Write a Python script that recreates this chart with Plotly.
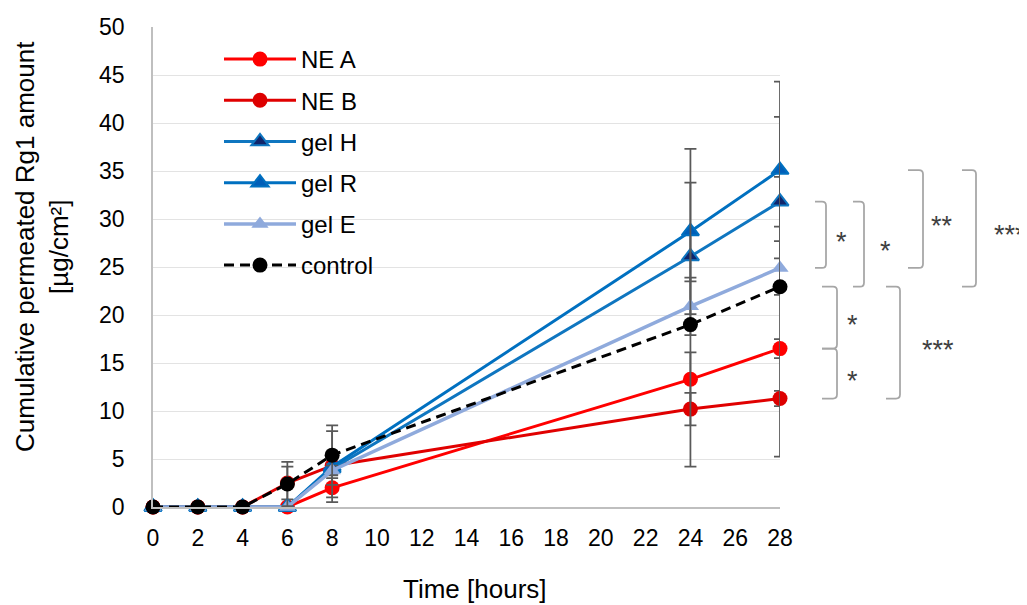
import plotly.graph_objects as go

# ---------------- data ----------------
time_h = [0, 2, 4, 6, 8, 24, 28]

ne_a = [0, 0, 0, 0, 2.0, 13.3, 16.5]
ne_a_err = [0, 0, 0, 0, 1.0, 2.8, 1.0]

ne_b = [0, 0, 0, 2.5, 4.3, 10.2, 11.3]
ne_b_err = [0, 0, 0, 1.7, 0.9, 1.7, 0.8]

gel_h = [0, 0, 0, 0, 4.0, 26.1, 31.8]
gel_h_err = [0, 0, 0, 0, 0.5, 2.6, 2.6]

gel_r = [0, 0, 0, 0, 4.2, 28.7, 35.1]
gel_r_err = [0, 0, 0, 0, 3.7, 8.6, 9.2]

gel_e = [0, 0, 0, 0, 3.8, 20.9, 24.9]
gel_e_err = [0, 0, 0, 0, 0.5, 3.0, 2.8]

control = [0, 0, 0, 2.4, 5.4, 19.0, 22.95]
control_err = [0, 0, 0, 2.3, 3.1, 14.8, 17.7]

series_names = ["NE A", "NE B", "gel H", "gel R", "gel E", "control"]

x_ticks = list(range(0, 29, 2))
y_ticks = list(range(0, 51, 5))

# significance brackets: (upper series, lower series, label)
brackets = [
    ("gel H", "gel E", "*"),
    ("gel H", "control", "*"),
    ("gel R", "gel E", "**"),
    ("gel R", "control", "***"),
    ("control", "NE A", "*"),
    ("NE A", "NE B", "*"),
    ("control", "NE B", "***"),
]

# ---------------- styling ----------------
W, H = 1027, 605
OFF = 8  # page body margin of the browser
L, R, T, B = 153 - OFF, 247 + OFF, 27 - OFF, 98 + OFF
PW, PH = W - L - R, H - T - B
YMAX = 50
FONT = "Liberation Sans, Arial, sans-serif"
ERR_COL = "#595959"

values = {"NE A": ne_a, "NE B": ne_b, "gel H": gel_h, "gel R": gel_r,
          "gel E": gel_e, "control": control}
errors = {"NE A": ne_a_err, "NE B": ne_b_err, "gel H": gel_h_err, "gel R": gel_r_err,
          "gel E": gel_e_err, "control": control_err}

styles = {
    "NE A": dict(line=dict(color="#FF0000", width=3),
                 marker=dict(symbol="circle", size=15, color="#FF0000")),
    "NE B": dict(line=dict(color="#E00000", width=3),
                 marker=dict(symbol="circle", size=15, color="#DD0000")),
    "gel H": dict(line=dict(color="#0F76C0", width=3),
                  marker=dict(symbol="triangle-up", size=15, color="#10256B",
                              line=dict(color="#0F76C0", width=2))),
    "gel R": dict(line=dict(color="#0070C0", width=3),
                  marker=dict(symbol="triangle-up", size=15, color="#005EB8",
                              line=dict(color="#0070C0", width=2))),
    "gel E": dict(line=dict(color="#8FAADC", width=3.5),
                  marker=dict(symbol="triangle-up", size=15, color="#8FAADC")),
    "control": dict(line=dict(color="#000000", width=3, dash="10px,6px"),
                    marker=dict(symbol="circle", size=15, color="#000000")),
}

fig = go.Figure()
for i, name in enumerate(series_names):
    st = styles[name]
    fig.add_trace(go.Scatter(
        x=time_h, y=values[name], name=name, mode="lines+markers",
        line=st["line"], marker=st["marker"],
        error_y=dict(type="data", array=errors[name], visible=True,
                     color=ERR_COL, thickness=1.75, width=6),
        cliponaxis=False, legendgroup=name, legendrank=i,
    ))

# screen-pixel -> paper coordinate helpers
def px_x(px):
    return (px - OFF - L) / PW

def px_y(py):
    return (H - B - (py - OFF)) / PH

last = {n: values[n][-1] for n in series_names}

bracket_px = [  # (x_left, x_right, star_x) in screen pixels
    (815, 826, 841),
    (853, 864, 885),
    (908, 923, 942),
    (962, 976, 1010),
    (822, 837, 852),
    (822, 837, 852),
    (886, 900, 938),
]

shapes = []
annotations = []
rx, ry = 4 / PW, 4 / PH
for (top_s, bot_s, label), (xl_px, xr_px, sx_px) in zip(brackets, bracket_px):
    yt = last[top_s] / YMAX
    yb = last[bot_s] / YMAX
    xl, xr = px_x(xl_px), px_x(xr_px)
    path = (f"M {xl},{yt} L {xr - rx},{yt} Q {xr},{yt} {xr},{yt - ry} "
            f"L {xr},{yb + ry} Q {xr},{yb} {xr - rx},{yb} L {xl},{yb}")
    shapes.append(dict(type="path", path=path, xref="paper", yref="paper",
                       line=dict(color="#A6A6A6", width=1.75), layer="above"))
    annotations.append(dict(x=px_x(sx_px), y=(yt + yb) / 2, xref="paper", yref="paper",
                            xanchor="center", yanchor="middle",
                            text=label, showarrow=False, yshift=-7,
                            font=dict(family=FONT, size=27, color="#404040")))

# axis titles
annotations.append(dict(x=px_x(42), y=px_y(247), xref="paper", yref="paper",
                        xanchor="center", yanchor="middle",
                        text="Cumulative permeated Rg1 amount<br>[µg/cm²]",
                        textangle=-90, showarrow=False,
                        font=dict(family=FONT, size=26, color="#000000")))
annotations.append(dict(x=px_x(475), y=px_y(589), xref="paper", yref="paper",
                        xanchor="center", yanchor="middle",
                        text="Time [hours]", showarrow=False,
                        font=dict(family=FONT, size=26, color="#000000")))

fig.update_layout(
    width=W, height=H,
    margin=dict(l=L, r=R, t=T, b=B, autoexpand=False),
    paper_bgcolor="white", plot_bgcolor="white",
    font=dict(family=FONT, size=22, color="#000000"),
    showlegend=True,
    legend=dict(x=px_x(219), y=px_y(37), xanchor="left", yanchor="top",
                bgcolor="rgba(0,0,0,0)", font=dict(family=FONT, size=24),
                tracegroupgap=7, itemwidth=72),
    shapes=shapes, annotations=annotations,
)
fig.update_xaxes(range=[0, 28], tickvals=x_ticks, ticktext=[str(v) for v in x_ticks],
                 showgrid=False, zeroline=False, showline=True,
                 linecolor="#BFBFBF", linewidth=1.5, ticks="",
                 ticklabelstandoff=10, tickfont=dict(size=23))
fig.update_yaxes(range=[0, YMAX], tickvals=y_ticks, ticktext=[str(v) for v in y_ticks],
                 showgrid=True, gridcolor="#E3E3E3", gridwidth=1.2,
                 zeroline=False, showline=True, linecolor="#BFBFBF", linewidth=1.5,
                 ticks="", ticklabelstandoff=22, tickfont=dict(size=23))

fig.write_html("out.html")
